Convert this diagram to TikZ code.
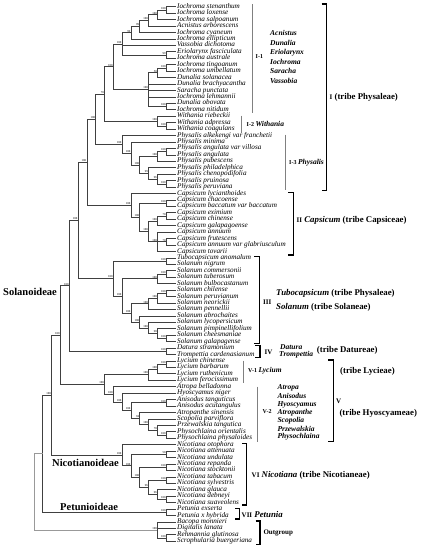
\documentclass[tikz,border=0pt]{standalone}
\usepackage{fontspec}
\setmainfont{Liberation Serif}
\usetikzlibrary{calc}

\newcommand{\gsize}{\fontsize{7.5}{7.5}\selectfont}
\newcommand{\nsize}{\fontsize{7}{7}\selectfont}

\tikzset{
  branch/.style={draw=black!75, line width=0.6pt},
  rootbranch/.style={draw=black!40, line width=0.6pt},
  boot/.style={anchor=south east, inner sep=0.2pt, xshift=-0.2pt, yshift=0.2pt, font=\fontsize{3}{3}\selectfont},
  leaf/.style={anchor=west, inner sep=1pt, text height=4.6pt, text depth=1.4pt, font=\fontsize{7.2}{7.2}\selectfont\itshape},
  bar/.style={draw=black!50, line width=1pt},
  brk/.style={draw=black, line width=1.1pt},
  num/.style={anchor=west, inner sep=0pt, font=\fontsize{6}{6}\selectfont\bfseries},
  num3/.style={anchor=west, inner sep=0pt, font=\fontsize{7}{7}\selectfont\bfseries},
  gen/.style={anchor=west, inner sep=0pt, font=\gsize\bfseries\itshape},
  grp/.style={anchor=west, inner sep=0pt, font=\fontsize{8.8}{8.8}\selectfont\bfseries},
  sub/.style={anchor=west, inner sep=0pt, font=\fontsize{10.5}{10.5}\selectfont\bfseries},
  outg/.style={anchor=west, inner sep=0pt, font=\fontsize{7}{7}\selectfont\bfseries}
}

% name, height, first child, last child, support
\newcommand{\clade}[5]{%
  \path let \p1=(#3), \p2=(#4) in
    coordinate (#1) at ({(175-8.82*#2)*1pt}, {0.5*\y1+0.5*\y2});
  \draw[branch] (#1) |- (#3) (#1) |- (#4);
  \node[boot] (#1b) at (#1) {#5};}

\begin{document}
\begin{tikzpicture}[x=1pt, y=-1pt]
\useasboundingbox (0,0) rectangle (421,550);

\foreach \name [count=\i] in {Iochroma stenanthum, Iochroma loxense, Iochroma salpoanum,
  Acnistus arborescens, Iochroma cyaneum, Iochroma ellipticum, Vassobia dichotoma,
  Eriolarynx fasciculata, Iochroma australe, Iochroma tingoanum, Iochroma umbellatum,
  Dunalia solanacea, Dunalia brachyacantha, Saracha punctata, Iochroma lehmannii,
  Dunalia obovata, Iochroma nitidum, Withania riebeckii, Withania adpressa,
  Withania coagulans, Physalis alkekengi var franchetii, Physalis minima,
  Physalis angulata var villosa, Physalis angulata, Physalis pubescens,
  Physalis philadelphica, Physalis chenopodifolia, Physalis pruinosa, Physalis peruviana,
  Capsicum lycianthoides, Capsicum chacoense, Capsicum baccatum var baccatum,
  Capsicum eximium, Capsicum chinense, Capsicum galapagoense, Capsicum annuum,
  Capsicum frutescens, Capsicum annuum var glabriusculum, Capsicum tovarii,
  Tubocapsicum anomalum, Solanum nigrum, Solanum commersonii, Solanum tuberosum,
  Solanum bulbocastanum, Solanum chilense, Solanum peruvianum, Solanum neorickii,
  Solanum pennellii, Solanum abrochaites, Solanum lycopersicum, Solanum pimpinellifolium,
  Solanum cheesmaniae, Solanum galapagense, Datura stramonium, Trompettia cardenasianum,
  Lycium chinense, Lycium barbarum, Lycium ruthenicum, Lycium ferocissimum,
  Atropa belladonna, Hyoscyamus niger, Anisodus tanguticus, Anisodus acutangulus,
  Atropanthe sinensis, Scopolia parviflora, Przewalskia tangutica, Physochlaina orientalis,
  Physochlaina physaloides, Nicotiana otophora, Nicotiana attenuata, Nicotiana undulata,
  Nicotiana repanda, Nicotiana stocktonii, Nicotiana tabacum, Nicotiana sylvestris,
  Nicotiana glauca, Nicotiana debneyi, Nicotiana suaveolens, Petunia exserta,
  Petunia x hybrida, Bacopa monnieri, Digitalis lanata, Rehmannia glutinosa,
  Scrophularia buergeriana}
  {\coordinate (t\i) at (176, {6.7+(\i-1)*6.44});
   \node[leaf] (l\i) at (t\i) {\name};}

% Physaleae
\clade{a1}{1}{t1}{t2}{100}
\clade{a2}{2}{a1}{t3}{100}
\clade{a3}{3}{a2}{t4}{100}
\clade{a4}{4}{a3}{t5}{99}
\clade{a5}{5}{a4}{t6}{99}
\clade{b1}{1}{t8}{t9}{99}
\clade{a6}{6}{a5}{b1}{100}
\draw[branch] (a6) |- (t7);
\clade{c1}{1}{t10}{t11}{100}
\clade{c2}{2}{c1}{t12}{50}
\clade{c3}{1}{t16}{t17}{100}
\clade{c4}{3}{c2}{c3}{100}
\draw[branch] (c4) |- (t13) (c4) |- (t14) (c4) |- (t15);
\clade{i1}{7}{a6}{c4}{100}
\clade{w1}{1}{t19}{t20}{100}
\clade{w2}{2}{t18}{w1}{100}
\clade{i2}{8}{i1}{w2}{70}
\clade{p1}{1}{t23}{t24}{100}
\clade{p2}{2}{p1}{t25}{100}
\clade{p3}{1}{t28}{t29}{100}
\clade{p4}{2}{t27}{p3}{96}
\clade{p5}{3}{t26}{p4}{99}
\clade{p6}{4}{p2}{p5}{100}
\clade{p7}{5}{t22}{p6}{100}
\clade{p8}{6}{t21}{p7}{100}
\clade{phy}{9}{i2}{p8}{100}

% Capsiceae
\clade{k1}{1}{t31}{t32}{100}
\clade{k2}{1}{t33}{t34}{70}
\clade{k3}{2}{k2}{t35}{100}
\clade{k4}{1}{t37}{t38}{70}
\clade{k5}{2}{t36}{t39}{100}
\draw[branch] (k5) |- (k4);
\clade{k6}{3}{k3}{k5}{100}
\clade{k7}{4}{k1}{k6}{100}
\clade{k8}{5}{t30}{k7}{100}
\clade{cap}{10}{phy}{k8}{100}

% Solaneae
\clade{s1}{1}{t40}{t41}{100}
\clade{s2}{1}{t42}{t43}{100}
\clade{s3}{2}{s2}{t44}{100}
\clade{s4}{1}{t45}{t46}{100}
\clade{s5}{2}{s4}{t47}{100}
\clade{s6}{3}{s5}{t48}{100}
\clade{s7}{1}{t52}{t53}{100}
\clade{s8}{2}{t51}{s7}{90}
\clade{s9}{3}{t50}{s8}{100}
\clade{s10}{4}{t49}{s9}{100}
\clade{s11}{5}{s6}{s10}{100}
\clade{s12}{6}{s3}{s11}{100}
\clade{s13}{7}{s1}{s12}{100}
\clade{sol}{11}{cap}{s13}{100}

% Datureae
\clade{d1}{1}{t54}{t55}{100}
\clade{dat}{12}{sol}{d1}{100}

% Lycieae, Hyoscyameae
\clade{y1}{1}{t56}{t57}{100}
\clade{y2}{2}{y1}{t58}{100}
\clade{y3}{3}{y2}{t59}{100}
\clade{q1}{1}{t62}{t63}{100}
\clade{q2}{1}{t67}{t68}{100}
\clade{q3}{2}{t66}{q2}{70}
\clade{q4}{3}{t65}{q3}{100}
\clade{q5}{4}{t64}{q4}{94}
\clade{q6}{5}{q1}{q5}{100}
\clade{q7}{6}{t61}{q6}{100}
\clade{q8}{7}{t60}{q7}{100}
\clade{lyh}{8}{y3}{q8}{100}
\clade{lyc}{13}{dat}{lyh}{100}

% Nicotianeae
\clade{n1}{1}{t70}{t71}{50}
\clade{n2}{1}{t72}{t73}{100}
\clade{n3}{1}{t74}{t75}{100}
\clade{n4}{1}{t77}{t78}{100}
\clade{n5}{2}{t76}{n4}{96}
\clade{n6}{3}{n3}{n5}{96}
\clade{n7}{4}{n2}{n6}{100}
\clade{n8}{5}{n1}{n7}{100}
\clade{n9}{6}{t69}{n8}{100}
\clade{nic}{14}{lyc}{n9}{100}

% Petunia, outgroup
\clade{e1}{1}{t79}{t80}{100}
\clade{pet}{15}{nic}{e1}{}
\clade{o1}{1}{t83}{t84}{100}
\clade{o2}{2}{t81}{o1}{100}
\draw[branch] (o2) |- (t82);
\path let \p1=(pet), \p2=(o2) in
  coordinate (root) at ({(175-8.82*16)*1pt}, {0.5*\y1+0.5*\y2});
\draw[rootbranch] (root) |- (pet) (root) |- (o2);

\node[sub] (solan) at (3,292) {Solanoideae};
\node[sub] (nicot) at (52,462.7) {Nicotianoideae};
\node[sub] (petun) at (60,507.3) {Petunioideae};

% clades on the right
\draw[bar] (252.7,4) -- (252.7,112.7);
\node[num] (i1t) at (255.5,57) {I-1};
\foreach \g [count=\j] in {Acnistus, Dunalia, Eriolarynx, Iochroma, Saracha, Vassobia}
  \node[gen] (g\j) at (270, {33.3+(\j-1)*9.48}) {\g};
\draw[bar] (241.7,115.5) -- (241.7,132.5);
\node[num] (i2t) at (246.5,123.5) {I-2 {\gsize\itshape Withania}};
\draw[bar] (285,134.5) -- (285,190);
\node[num] (i3t) at (289,162.7) {I-3 {\gsize\itshape Physalis}};
\draw[brk] (321.7,4) -- (326.7,4) -- (326.7,190.7) -- (321.7,190.7);
\node[grp] (tI) at (329.5,97.3) {{\nsize I} (tribe Physaleae)};

\draw[brk] (288.3,192.7) -- (293.3,192.7) -- (293.3,255) -- (288.3,255);
\node[grp] (tII) at (296.5,220.7) {{\nsize II} \textit{Capsicum} (tribe Capsiceae)};

\draw[brk] (254.3,256.7) -- (259.3,256.7) -- (259.3,343.3) -- (254.3,343.3);
\node[num3] (tIII) at (263,302.7) {III};
\node[grp] (tub) at (276,293.3) {\textit{Tubocapsicum} (tribe Physaleae)};
\node[grp] (solt) at (276,307.3) {\textit{Solanum} (tribe Solaneae)};

\draw[brk] (255,345.7) -- (260,345.7) -- (260,357.7) -- (255,357.7);
\node[num3] (tIV) at (264.5,352.3) {IV};
\node[gen] (datg) at (280,346.7) {Datura};
\node[gen] (tromg) at (279,354.5) {Trompettia};
\node[grp] (datt) at (316.7,350) {(tribe Datureae)};

\draw[bar] (243.3,360.5) -- (243.3,383.3);
\node[num] (v1t) at (248,371) {V-1 {\gsize\itshape Lycium}};
\draw[bar] (257.3,386.5) -- (257.3,441.7);
\node[num] (v2t) at (262.5,411.7) {V-2};
\foreach \g [count=\j] in {Atropa, Anisodus, Hyoscyamus, Atropanthe, Scopolia, Przewalskia, Physochlaina}
  \node[gen] (h\j) at (277.3, {388.3+(\j-1)*8.07}) {\g};
\draw[brk] (328.3,360) -- (333.3,360) -- (333.3,441.7) -- (328.3,441.7);
\node[num3] (tV) at (336,401) {V};
\node[grp] (lyct) at (340,371.7) {(tribe Lycieae)};
\node[grp] (hyot) at (339.3,413.3) {(tribe Hyoscyameae)};

\draw[brk] (242.2,443.3) -- (246.7,443.3) -- (246.7,505) -- (242.2,505);
\node[grp] (tVI) at (251.5,475.7) {{\nsize VI} \textit{Nicotiana} (tribe Nicotianeae)};
\draw[brk] (235,508.3) -- (239.3,508.3) -- (239.3,519) -- (235,519);
\node[grp] (tVII) at (241.5,514) {{\nsize VII} \textit{Petunia}};
\draw[brk] (255.5,521) -- (260,521) -- (260,544.3) -- (255.5,544.3);
\node[outg] (tout) at (263.3,532.7) {Outgroup};
\end{tikzpicture}
\end{document}
